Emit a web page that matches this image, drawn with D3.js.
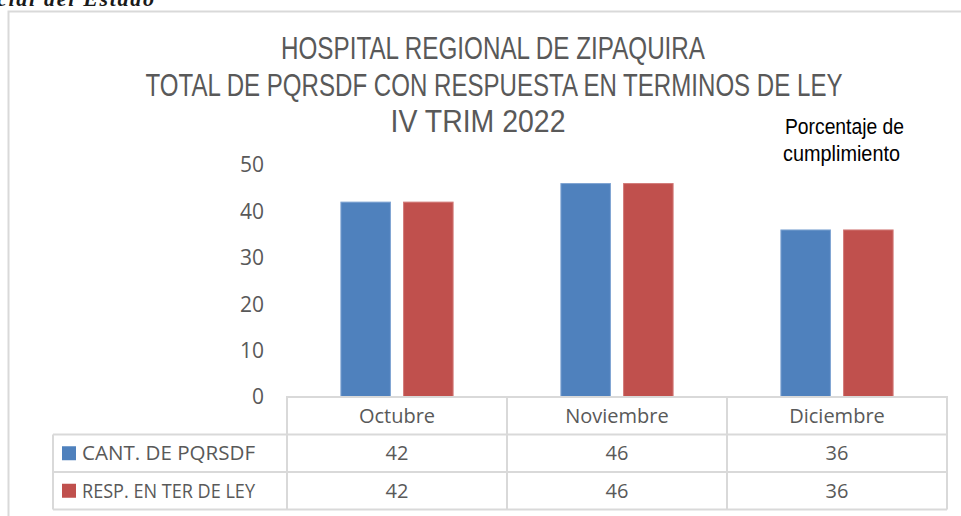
<!DOCTYPE html>
<html>
<head>
<meta charset="utf-8">
<script src="https://cdn.jsdelivr.net/npm/d3@7"></script>
<style>
  body { margin: 0; background: #fff; }
  svg { display: block; }
</style>
</head>
<body>
<div id="chart"></div>
<script>
// data
const months = ["Octubre", "Noviembre", "Diciembre"];
const seriesNames = ["CANT. DE PQRSDF", "RESP. EN TER DE LEY"];
const cantPqrsdf = [42, 46, 36];
const respTerLey = [42, 46, 36];
const yTicks = [0, 10, 20, 30, 40, 50];
const titleLines = ["HOSPITAL REGIONAL DE ZIPAQUIRA", "TOTAL DE PQRSDF CON RESPUESTA EN TERMINOS DE LEY", "IV TRIM 2022"];

const width = 961, height = 516;
const colors = ["#4f81bd", "#c0504d"];
const strokes = ["#7ea3d2", "#d27a78"];
const grid = "#d9d9d9";
const txt = "#595959";

const svg = d3.select("#chart").append("svg")
    .attr("width", width)
    .attr("height", height);

// cropped header from the page above
svg.append("text")
    .attr("x", -3).attr("y", 6)
    .attr("font-family", "Liberation Serif")
    .attr("font-weight", "bold")
    .attr("font-style", "italic")
    .attr("font-size", 22)
    .attr("textLength", 157)
    .attr("lengthAdjust", "spacing")
    .attr("fill", "#1a1a1a")
    .text("cial del Estado");

// chart frame
svg.append("path")
    .attr("d", `M8.5,${height} V11.5 H${width}`)
    .attr("fill", "none")
    .attr("stroke", grid)
    .attr("stroke-width", 2);

// title
const titleY = [59, 96, 132];
const titleX = [493, 494, 478];
const titleW = [424, 697, 175];
svg.selectAll(".title")
    .data(titleLines)
    .enter().append("text")
    .attr("class", "title")
    .attr("x", (d, i) => titleX[i])
    .attr("y", (d, i) => titleY[i])
    .attr("text-anchor", "middle")
    .attr("font-family", "Liberation Sans, Arial")
    .attr("font-size", 32)
    .attr("textLength", (d, i) => titleW[i])
    .attr("lengthAdjust", "spacingAndGlyphs")
    .attr("fill", txt)
    .text(d => d);

// side note
const noteLines = ["Porcentaje de", "cumplimiento"];
svg.selectAll(".note")
    .data(noteLines)
    .enter().append("text")
    .attr("class", "note")
    .attr("x", (d, i) => [785, 783][i])
    .attr("y", (d, i) => [134, 161][i])
    .attr("font-family", "Liberation Sans, Arial")
    .attr("font-size", 22)
    .attr("textLength", (d, i) => [119, 117][i])
    .attr("lengthAdjust", "spacingAndGlyphs")
    .attr("fill", "#000")
    .text(d => d);

// scales
const x0 = d3.scaleBand()
    .domain(months)
    .range([287, 947])
    .padding(0);

const bw = x0.bandwidth();
const x1 = d3.scaleBand()
    .domain(seriesNames)
    .range([bw * 0.245, bw * 0.755])
    .paddingInner(0.21);

const y = d3.scaleLinear()
    .domain([0, 50])
    .range([397, 165]);

// y labels
svg.selectAll(".ytick")
    .data(yTicks)
    .enter().append("text")
    .attr("class", "ytick")
    .attr("x", 264)
    .attr("y", d => y(d))
    .attr("dy", "0.35em")
    .attr("text-anchor", "end")
    .attr("font-family", "Open Sans")
    .attr("font-size", 21)
    .attr("fill", txt)
    .text(d => d);

// bars
const seriesData = [cantPqrsdf, respTerLey];
seriesData.forEach((vals, s) => {
    svg.selectAll(".bar-" + s)
        .data(vals)
        .enter().append("rect")
        .attr("class", "bar-" + s)
        .attr("x", (d, i) => x0(months[i]) + x1(seriesNames[s]))
        .attr("y", d => y(d))
        .attr("width", x1.bandwidth())
        .attr("height", d => y(0) - y(d))
        .attr("fill", colors[s])
        .attr("stroke", strokes[s])
        .attr("stroke-width", 1);
});

// data table
const rowH = 37.5;
const tableTop = y(0);
const legendLeft = 53;
const tableRight = x0.range()[1];
const tableLeft = x0.range()[0];
const tbl = svg.append("g")
    .attr("fill", "none")
    .attr("stroke", grid)
    .attr("stroke-width", 2);

// header row
tbl.append("path")
    .attr("d", `M${tableLeft},${tableTop + rowH} V${tableTop} H${tableRight} V${tableTop + rowH * 3}`);
// horizontal row lines
[1, 2, 3].forEach(r => {
    tbl.append("line")
        .attr("x1", legendLeft).attr("x2", tableRight)
        .attr("y1", tableTop + rowH * r).attr("y2", tableTop + rowH * r);
});
tbl.append("line")
    .attr("x1", legendLeft).attr("x2", legendLeft)
    .attr("y1", tableTop + rowH).attr("y2", tableTop + rowH * 3);
months.forEach(m => {
    tbl.append("line")
        .attr("x1", x0(m)).attr("x2", x0(m))
        .attr("y1", tableTop).attr("y2", tableTop + rowH * 3);
});

// month headers
svg.selectAll(".month")
    .data(months)
    .enter().append("text")
    .attr("class", "month")
    .attr("x", d => x0(d) + bw / 2)
    .attr("y", tableTop + rowH / 2)
    .attr("dy", "0.35em")
    .attr("text-anchor", "middle")
    .attr("font-family", "Open Sans")
    .attr("font-size", 20)
    .attr("fill", txt)
    .text(d => d);

// series rows
seriesData.forEach((vals, s) => {
    const cy = tableTop + rowH * (s + 1) + rowH / 2;
    svg.append("rect")
        .attr("x", 62).attr("y", cy - 7)
        .attr("width", 14).attr("height", 14)
        .attr("fill", colors[s]);
    svg.append("text")
        .attr("x", 82).attr("y", cy)
        .attr("dy", "0.35em")
        .attr("font-family", "Open Sans")
        .attr("font-size", 20)
        .attr("textLength", 173)
        .attr("lengthAdjust", "spacingAndGlyphs")
        .attr("fill", txt)
        .text(seriesNames[s]);
    svg.selectAll(".val-" + s)
        .data(vals)
        .enter().append("text")
        .attr("class", "val-" + s)
        .attr("x", (d, i) => x0(months[i]) + bw / 2)
        .attr("y", cy)
        .attr("dy", "0.35em")
        .attr("text-anchor", "middle")
        .attr("font-family", "Open Sans")
        .attr("font-size", 20)
        .attr("fill", txt)
        .text(d => d);
});
</script>
</body>
</html>
